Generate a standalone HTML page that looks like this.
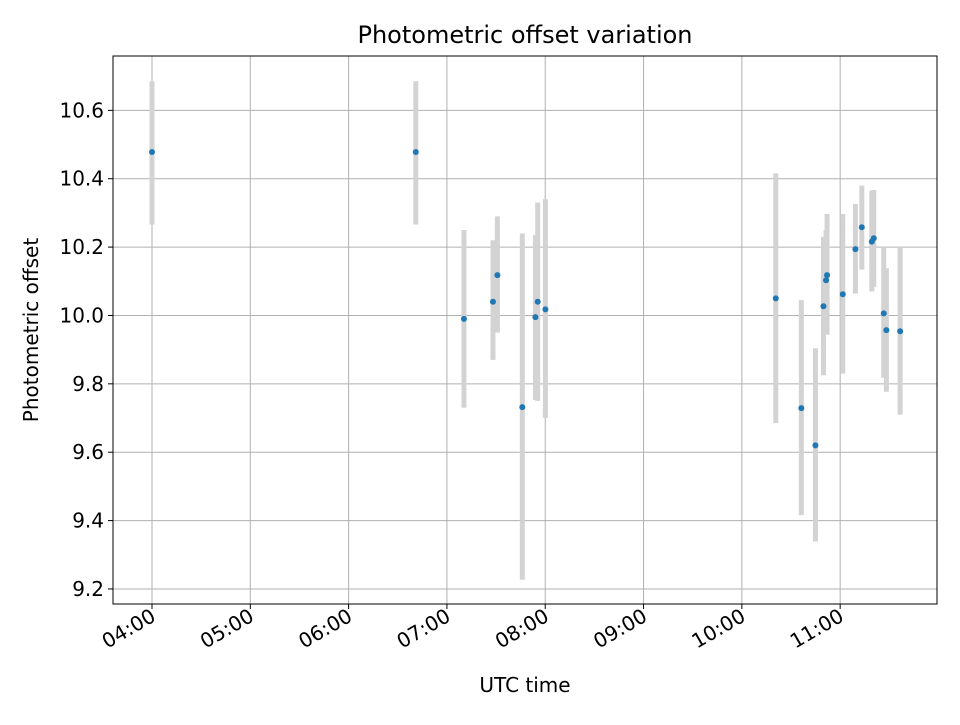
<!DOCTYPE html>
<html><head><meta charset="utf-8"><style>
body{margin:0;background:#fff;font-family:"Liberation Sans","DejaVu Sans",sans-serif}
svg text{font-family:"DejaVu Sans","Liberation Sans",sans-serif}
</style></head><body>
<svg id="chart" width="960" height="720" xmlns="http://www.w3.org/2000/svg">
<rect width="960" height="720" fill="#fff"/>
<text x="525" y="43" style="font-size:24px" text-anchor="middle">Photometric offset variation</text>
<text x="525" y="692" style="font-size:20px" text-anchor="middle">UTC time</text>
<text transform="translate(38,330) rotate(-90)" style="font-size:20px" text-anchor="middle">Photometric offset</text>
<g id="grid"></g><g id="bars"></g><g id="points"></g><g id="ticks"></g>
<rect x="113" y="56" width="824" height="548" fill="none" stroke="#000" stroke-width="1"/>
</svg>
<script>
// minutes after 04:00 UTC
const times=[0,161,190.4,208.1,210.8,226,234,235.4,240.1,380.7,396.3,404.9,409.8,411.4,412,421.6,429.3,433.2,439.3,440.5,446.6,448.2,456.6];
const offsets=[10.478,10.478,9.99,10.04,10.118,9.732,9.995,10.04,10.018,10.05,9.729,9.62,10.027,10.103,10.118,10.062,10.194,10.258,10.216,10.226,10.006,9.957,9.954];
const errHigh=[10.685,10.685,10.25,10.22,10.29,10.24,10.235,10.33,10.34,10.416,10.045,9.904,10.23,10.25,10.297,10.297,10.326,10.38,10.365,10.367,10.2,10.138,10.2];
const errLow=[10.266,10.266,9.73,9.87,9.95,9.227,9.753,9.75,9.70,9.685,9.416,9.339,9.825,9.944,9.944,9.83,10.064,10.134,10.07,10.084,9.818,9.777,9.71];
const xTickLabels=["04:00","05:00","06:00","07:00","08:00","09:00","10:00","11:00"];
const yTickValues=[9.2,9.4,9.6,9.8,10.0,10.2,10.4,10.6];
const X0=113,X1=937,Y0=56,Y1=604,xmin=-23.8,xmax=479.1,ymin=9.156,ymax=10.759;
const xs=m=>X0+(m-xmin)/(xmax-xmin)*(X1-X0);
const ys=v=>Y1-(v-ymin)/(ymax-ymin)*(Y1-Y0);
const NS="http://www.w3.org/2000/svg";
function mk(tag,attrs,parent){const e=document.createElementNS(NS,tag);for(const k in attrs)e.setAttribute(k,attrs[k]);document.getElementById(parent).appendChild(e);return e;}
xTickLabels.forEach((l,i)=>{
 const x=xs(i*60);
 const g=mk("line",{x1:x,x2:x,y1:Y0,y2:Y1,stroke:"#b0b0b0","stroke-width":1},"grid");
 
 
 const t=mk("line",{x1:x,x2:x,y1:Y1,y2:Y1+5,stroke:"#000"},"ticks");
 
 
 const tx=mk("text",{transform:`translate(${x+5},${Y1+16}) rotate(-30)`,"text-anchor":"end",style:"font-size:20px"},"ticks");
 tx.textContent=l;
 
 
});
yTickValues.forEach(v=>{
 const y=ys(v);
 const g=mk("line",{x1:X0,x2:X1,y1:y,y2:y,stroke:"#b0b0b0","stroke-width":1},"grid");
 
 
 const t=mk("line",{x1:X0-5,x2:X0,y1:y,y2:y,stroke:"#000"},"ticks");
 
 
 const tx=mk("text",{x:X0-9,y:y+7,"text-anchor":"end",style:"font-size:20px"},"ticks");
 tx.textContent=v.toFixed(1);
 
 
});
times.forEach((m,i)=>{
 const x=xs(m);
 const b=mk("line",{x1:x,x2:x,y1:ys(errHigh[i]),y2:ys(errLow[i]),stroke:"#d3d3d3","stroke-width":5},"bars");
 
 
 const c=mk("circle",{cx:x,cy:ys(offsets[i]),r:3,fill:"#1f77b4"},"points");
 
 
});
</script>
</body></html>
